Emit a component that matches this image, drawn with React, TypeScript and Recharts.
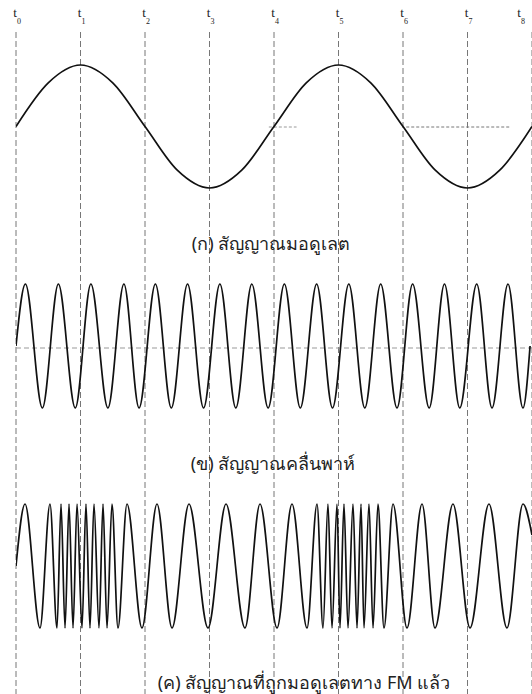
import React from 'react';
import { LineChart, Line, XAxis, YAxis, ReferenceLine } from 'recharts';

// time marks t0..t8
const tickValues = [0, 1, 2, 3, 4, 5, 6, 7, 8];
const tickLabels = ['0', '1', '2', '3', '4', '5', '6', '7', '8'];

// (a) modulating signal
const modT = [0, 0.5, 1, 1.5, 2, 2.5, 3, 3.5, 4, 4.5, 5, 5.5, 6, 6.5, 7, 7.5, 8];
const modV = [0, 0.71, 1, 0.71, 0, -0.71, -1, -0.71, 0, 0.71, 1, 0.71, 0, -0.71, -1, -0.71, 0];

// (b) carrier, read at its peaks and troughs
const carrierT = [
  0, 0.146, 0.409, 0.657, 0.919, 1.161, 1.425, 1.673, 1.908, 2.161, 2.408, 2.66, 2.908,
  3.161, 3.408, 3.656, 3.909, 4.161, 4.408, 4.661, 4.907, 5.16, 5.408, 5.654, 5.907,
  6.149, 6.406, 6.643, 6.88, 7.143, 7.38, 7.628, 7.86, 7.97,
];
const carrierV = [
  0, 1, -1, 1, -1, 1, -1, 1, -1, 1, -1, 1, -1, 1, -1, 1, -1, 1, -1, 1, -1, 1, -1, 1, -1,
  1, -1, 1, -1, 1, -1, 1, -1, 0,
];

// (c) FM signal, read at its peaks and troughs
const fmT = [
  0, 0.14, 0.372, 0.527, 0.636, 0.698, 0.76, 0.822, 0.884, 0.946, 1.023, 1.085, 1.147,
  1.209, 1.287, 1.349, 1.411, 1.488, 1.581, 1.721, 1.953, 2.186, 2.419, 2.682, 2.977,
  3.256, 3.55, 3.783, 4.047, 4.279, 4.512, 4.667, 4.76, 4.837, 4.899, 4.977, 5.023,
  5.085, 5.147, 5.225, 5.287, 5.349, 5.395, 5.473, 5.535, 5.612, 5.705, 5.845, 6.062,
  6.295, 6.496, 6.775, 7.039, 7.333, 7.612, 7.86, 8,
];
const fmV = [
  0, 1, -1, 1, -1, 1, -1, 1, -1, 1, -1, 1, -1, 1, -1, 1, -1, 1, -1, 1, -1, 1, -1, 1, -1,
  1, -1, 1, -1, 1, -1, 1, -1, 1, -1, 1, -1, 1, -1, 1, -1, 1, -1, 1, -1, 1, -1, 1, -1,
  1, -1, 1, -1, 1, -1, 1, 0.5,
];

const captions = [
  { text: '(ก) สัญญาณมอดูเลต', x: 271, y: 243 },
  { text: '(ข) สัญญาณคลื่นพาห์', x: 273, y: 463 },
  { text: '(ค) สัญญาณที่ถูกมอดูเลตทาง FM แล้ว', x: 304, y: 682 },
];

const W = 532;
const H = 694;
const TOP = 30; // room for the t labels

const zip = (ts: number[], vs: number[]) => ts.map((t, i) => ({ t, v: vs[i] }));
const modData = zip(modT, modV);
const carrierData = zip(carrierT, carrierV);
const fmData = zip(fmT, fmV);

// y domain that puts +1 at page pixel `top` and -1 at page pixel `bottom`
function band(top: number, bottom: number): [number, number] {
  const ph = H - TOP;
  const r = (2 * ph) / (bottom - top);
  const max = 1 + ((top - TOP) * r) / ph;
  return [max - r, max];
}

const TTick = (props: any) => {
  const { x, payload, index } = props;
  // the last mark sits on the page edge, so pull its label inside
  const cx = x > W - 8 ? x - 13 : x - 1;
  return (
    <g>
      <text x={cx} y={17} textAnchor="middle" fontFamily="Liberation Serif" fontSize={13} fill="#222">
        t
      </text>
      <text x={cx + 4} y={24} textAnchor="middle" fontFamily="Liberation Serif" fontSize={8} fill="#222">
        {tickLabels[index] ?? payload.value}
      </text>
    </g>
  );
};

const dash = { stroke: '#777', strokeWidth: 1, strokeDasharray: '6 3' };

export default function App() {
  return (
    <div style={{ position: 'absolute', left: 0, top: 0, width: W, height: H, background: '#fff' }}>
      <LineChart width={W} height={H} margin={{ top: 0, right: 0, bottom: 0, left: 16 }}>
        <XAxis
          dataKey="t"
          type="number"
          domain={[0, 8]}
          ticks={tickValues}
          interval={0}
          orientation="top"
          height={TOP}
          axisLine={false}
          tickLine={false}
          tick={<TTick />}
          allowDataOverflow
        />
        <YAxis yAxisId="px" hide type="number" domain={[TOP, H]} reversed allowDataOverflow />
        <YAxis yAxisId="a" hide type="number" domain={band(65, 188)} allowDataOverflow />
        <YAxis yAxisId="b" hide type="number" domain={band(284, 408)} allowDataOverflow />
        <YAxis yAxisId="c" hide type="number" domain={band(504, 628)} allowDataOverflow />

        {tickValues.map((t) => (
          <ReferenceLine
            key={t}
            yAxisId="px"
            segment={[{ x: t, y: TOP + 2 }, { x: t, y: H }]}
            {...dash}
          />
        ))}
        <ReferenceLine yAxisId="px" segment={[{ x: 6.05, y: 127 }, { x: 7.66, y: 127 }]} stroke="#777" strokeDasharray="3 2" />
        <ReferenceLine yAxisId="px" segment={[{ x: 3.92, y: 127 }, { x: 4.35, y: 127 }]} stroke="#999" strokeDasharray="3 2" />
        <ReferenceLine yAxisId="px" segment={[{ x: 0, y: 348 }, { x: 8, y: 348 }]} stroke="#999" strokeDasharray="5 3" />

        <Line data={modData} yAxisId="a" dataKey="v" type="monotone" stroke="#111" strokeWidth={1.7} dot={false} isAnimationActive={false} />
        <Line data={carrierData} yAxisId="b" dataKey="v" type="monotone" stroke="#111" strokeWidth={1.7} dot={false} isAnimationActive={false} />
        <Line data={fmData} yAxisId="c" dataKey="v" type="monotone" stroke="#111" strokeWidth={1.7} dot={false} isAnimationActive={false} />
      </LineChart>
      {captions.map((c) => (
        <div
          key={c.text}
          style={{
            position: 'absolute',
            left: c.x,
            top: c.y - 12,
            transform: 'translateX(-50%)',
            whiteSpace: 'nowrap',
            fontFamily: '"Noto Sans", "DejaVu Sans", sans-serif',
            fontSize: 18,
            lineHeight: '24px',
            color: '#222',
          }}
        >
          {c.text}
        </div>
      ))}
    </div>
  );
}
